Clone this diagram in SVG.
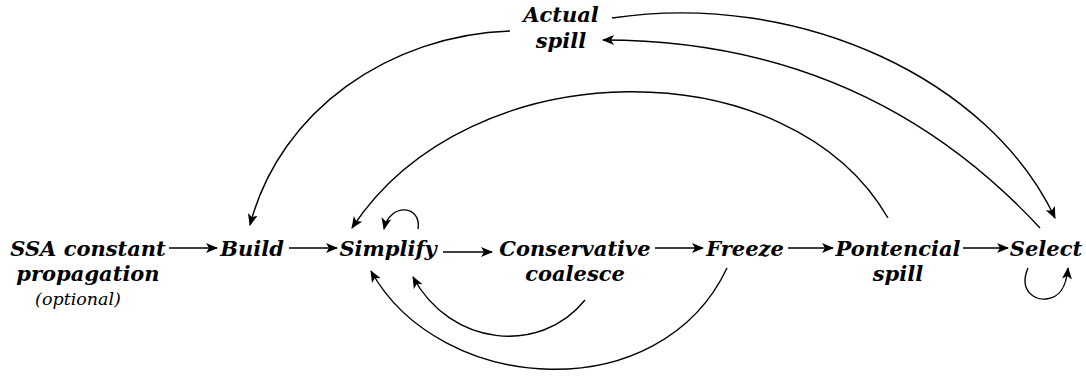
<svg xmlns="http://www.w3.org/2000/svg" width="1086" height="378" viewBox="0 0 1086 378">
<style>
.t{font-weight:bold;font-style:italic;font-size:21px;fill:#000;text-anchor:middle}
.s{font-style:italic;font-size:17.5px;fill:#000;text-anchor:middle}
.e{fill:none;stroke:#000;stroke-width:1.4}
</style>
<defs>
<marker id="ah" markerUnits="userSpaceOnUse" markerWidth="14" markerHeight="12" refX="11" refY="5" orient="auto">
<path d="M0,0 L12,5 L0,10 L3,5 z" fill="#000"/>
</marker>
</defs>
<rect width="1086" height="378" fill="#fff"/>
<g font-family="DejaVu Serif, serif">
<g id="ssa"><text class="t" x="88" y="256">SSA constant</text><text class="t" x="88" y="281">propagation</text><text class="s" x="78" y="305">(optional)</text></g>
<g id="build"><text class="t" x="252" y="256">Build</text></g>
<g id="simplify"><text class="t" x="388" y="256">Simplify</text></g>
<g id="coalesce"><text class="t" x="575" y="256">Conservative</text><text class="t" x="575" y="281">coalesce</text></g>
<g id="freeze"><text class="t" x="745" y="256">Freeze</text></g>
<g id="potential"><text class="t" x="898" y="256">Pontencial</text><text class="t" x="898" y="281">spill</text></g>
<g id="select"><text class="t" x="1046" y="256">Select</text></g>
<g id="actual"><text class="t" x="561" y="22">Actual</text><text class="t" x="561" y="48">spill</text></g>
</g>
<g id="connectors">
<path class="e" marker-end="url(#ah)" d="M169,248 L217,248"/>
<path class="e" marker-end="url(#ah)" d="M289,248 L337,248"/>
<path class="e" marker-end="url(#ah)" d="M443,252 L492,252"/>
<path class="e" marker-end="url(#ah)" d="M655,248 L703,248"/>
<path class="e" marker-end="url(#ah)" d="M788,248 L833,248"/>
<path class="e" marker-end="url(#ah)" d="M963,248 L1008,248"/>
<path class="e" marker-end="url(#ah)" d="M510,31 C390,35 280,110 250,225"/>
<path class="e" marker-end="url(#ah)" d="M612,18 C800,-10 990,80 1055,218"/>
<path class="e" marker-end="url(#ah)" d="M1040,228 C940,120 800,40 603,40"/>
<path class="e" marker-end="url(#ah)" d="M888,218 C790,48 470,48 352,228"/>
<path class="e" marker-end="url(#ah)" d="M418,229 C422,205 390,202 384,229"/>
<path class="e" marker-end="url(#ah)" d="M1028,268 C1018,292 1036,300 1046,299 C1058,298 1066,290 1068,268"/>
<path class="e" marker-end="url(#ah)" d="M585,300 C540,356 450,346 413,277"/>
<path class="e" marker-end="url(#ah)" d="M727,268 C660,410 440,395 371,271"/>
</g>
</svg>
